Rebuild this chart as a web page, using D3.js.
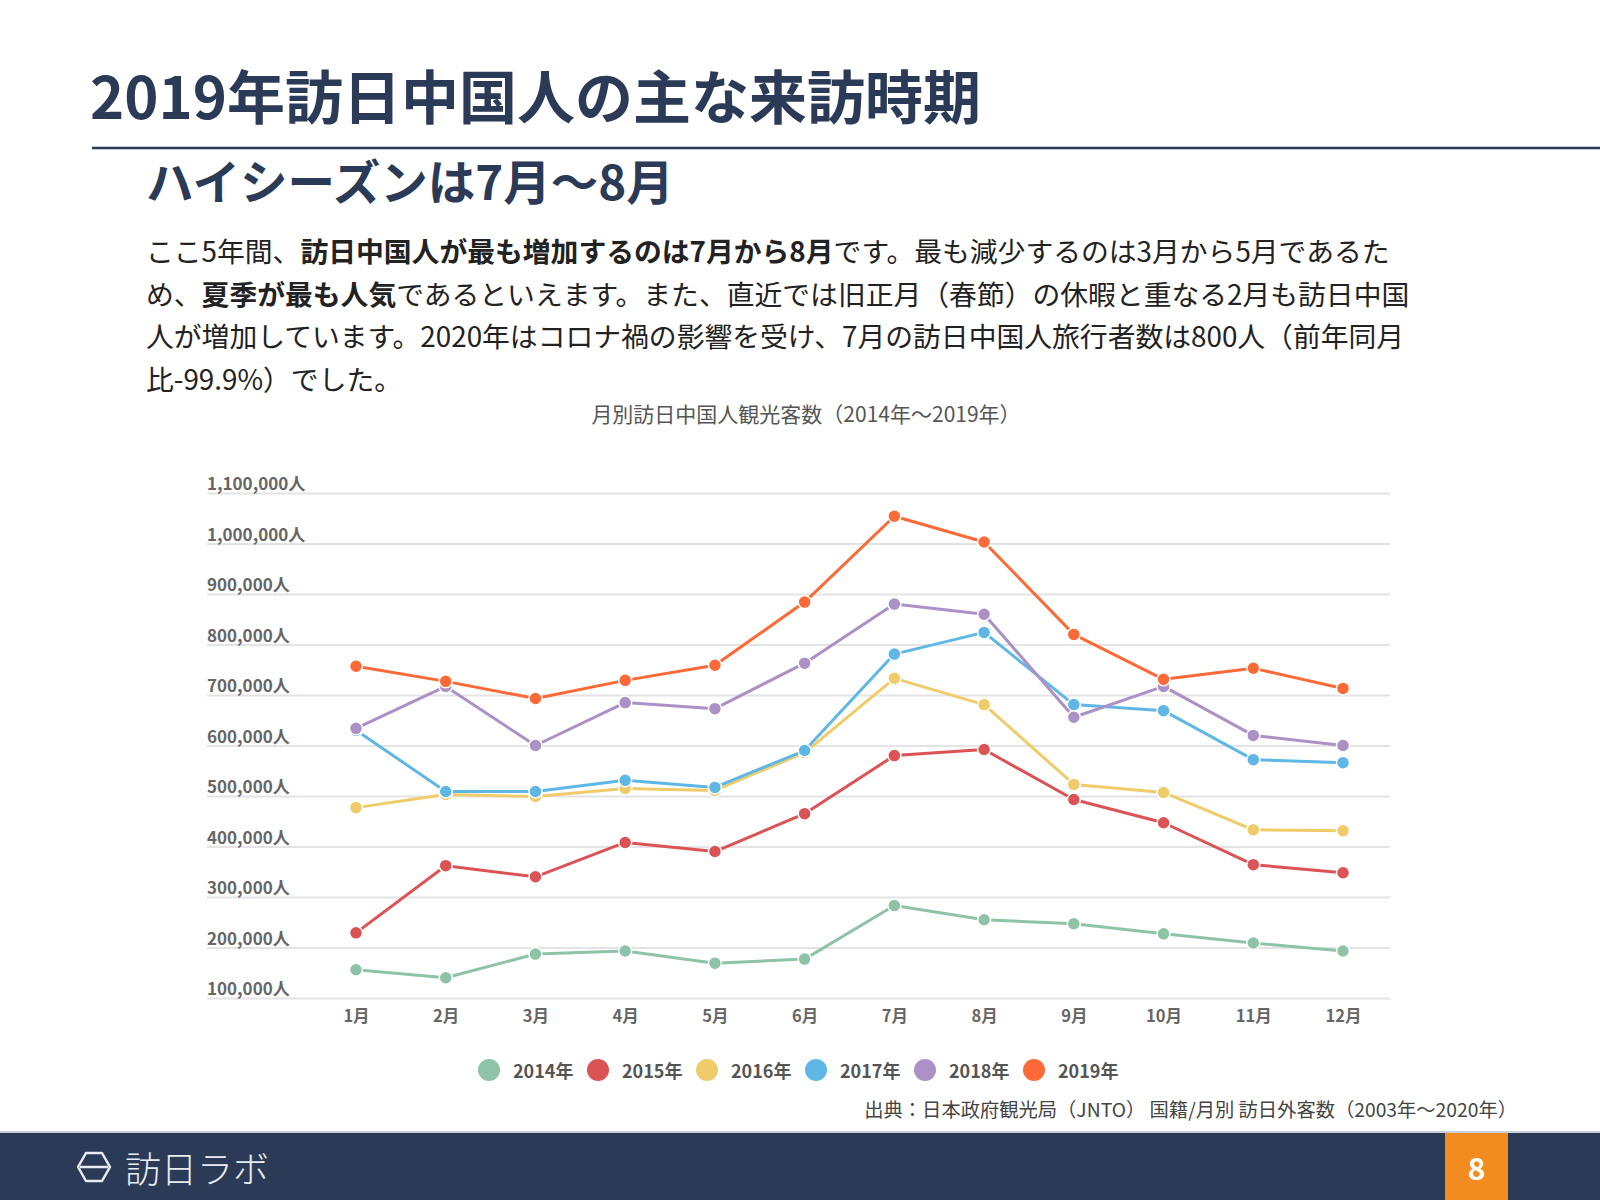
<!DOCTYPE html>
<html><head><meta charset="utf-8">
<script src="https://cdn.jsdelivr.net/npm/d3@7"></script>
<style>
html,body{margin:0;padding:0;background:#fff;}
svg{display:block;}
text{font-family:"Noto Sans CJK JP","Noto Sans",sans-serif;}
</style></head>
<body>
<svg id="c" width="1600" height="1200"></svg>
<script>
const months = ["1月","2月","3月","4月","5月","6月","7月","8月","9月","10月","11月","12月"];
const seriesNames = ["2014年","2015年","2016年","2017年","2018年","2019年"];
const seriesColors = ["#8ec3a7","#dc5356","#f0cb69","#5fb7e5","#ab91c5","#fd6a37"];
const v2014 = [156000,140000,187000,193000,169000,177000,283000,255000,247000,227000,209000,193000];
const v2015 = [229000,362000,340000,408000,390000,465000,580000,592000,493000,447000,364000,348000];
const v2016 = [477000,503000,499000,515000,511000,586000,733000,681000,523000,507000,433000,431000];
const v2017 = [630000,509000,509000,531000,517000,590000,781000,824000,681000,669000,572000,566000];
const v2018 = [634000,717000,600000,685000,673000,763000,880000,860000,656000,717000,620000,600000];
const v2019 = [757000,727000,693000,729000,759000,884000,1054000,1003000,820000,731000,753000,713000];
const yTicks = [100000,200000,300000,400000,500000,600000,700000,800000,900000,1000000,1100000];
const allSeries = [v2014,v2015,v2016,v2017,v2018,v2019];

const svg = d3.select("#c");
const navy = "#2b3a56";

// Title
svg.append("text").attr("x",90).attr("y",94).attr("dominant-baseline","central")
  .attr("font-size",58).attr("font-weight",700).attr("fill",navy)
  .text("2019年訪日中国人の主な来訪時期");
svg.append("line").attr("x1",92).attr("x2",1600).attr("y1",148).attr("y2",148)
  .attr("stroke",navy).attr("stroke-width",2.5);
svg.append("text").attr("x",146).attr("y",179).attr("dominant-baseline","central")
  .attr("font-size",47.5).attr("font-weight",700).attr("fill",navy)
  .text("ハイシーズンは7月〜8月");

// Paragraph
const para = [
  [["ここ5年間、",0],["訪日中国人が最も増加するのは7月から8月",1],["です。最も減少するのは3月から5月であるた",0]],
  [["め、",0],["夏季が最も人気",1],["であるといえます。また、直近では旧正月（春節）の休暇と重なる2月も訪日中国",0]],
  [["人が増加しています。2020年はコロナ禍の影響を受け、7月の訪日中国人旅行者数は800人（前年同月",0]],
  [["比-99.9%）でした。",0]]
];
const paraY = [250,293,335,378];
para.forEach((line,i)=>{
  const t = svg.append("text").attr("x",146).attr("y",paraY[i]).attr("dominant-baseline","central")
    .attr("font-size",27.8).attr("fill","#222");
  line.forEach(([s,b])=>{
    t.append("tspan").attr("font-weight",b?700:400).text(s);
  });
});

// Chart title
svg.append("text").attr("x",806).attr("y",413).attr("text-anchor","middle").attr("dominant-baseline","central")
  .attr("font-size",21).attr("fill","#555").text("月別訪日中国人観光客数（2014年〜2019年）");

// Scales
const x = d3.scalePoint().domain(months).range([356,1343]).padding(0);
const y = d3.scaleLinear().domain([100000,1100000]).range([998,493]);

// Grid + y labels
const yAxis = d3.axisLeft(y).tickValues(yTicks).tickSize(-(1390-207)).tickFormat(d=>d3.format(",")(d)+"人");
const gy = svg.append("g").attr("transform","translate(207,0)").call(yAxis);
gy.select(".domain").remove();
gy.selectAll(".tick line").attr("stroke","#e4e4e4").attr("stroke-width",2);
gy.selectAll(".tick text").attr("x",0).attr("dy",0).attr("y",-11).attr("text-anchor","start")
  .attr("dominant-baseline","central").attr("font-size",17).attr("font-weight",600).attr("fill","#666")
  .style("font-family",'"Noto Sans CJK JP",sans-serif');

// x labels
const xAxis = d3.axisBottom(x).tickSize(0);
const gx = svg.append("g").attr("transform","translate(0,998)").call(xAxis);
gx.select(".domain").remove();
gx.selectAll(".tick text").attr("y",17).attr("dy",0).attr("dominant-baseline","central")
  .attr("font-size",16.5).attr("font-weight",600).attr("fill","#666")
  .style("font-family",'"Noto Sans CJK JP",sans-serif');

// Lines + dots
const line = d3.line().x((d,i)=>x(months[i])).y(d=>y(d));
allSeries.forEach((vals,si)=>{
  const g = svg.append("g");
  g.append("path").datum(vals).attr("d",line).attr("fill","none")
    .attr("stroke",seriesColors[si]).attr("stroke-width",3).attr("stroke-linejoin","round");
  g.selectAll("circle").data(vals).join("circle")
    .attr("cx",(d,i)=>x(months[i])).attr("cy",d=>y(d)).attr("r",6.5)
    .attr("fill",seriesColors[si]).attr("stroke","#fff").attr("stroke-width",1.5);
});

// Legend
const legX = d3.scalePoint().domain(seriesNames).range([489,1034]);
const lg = svg.append("g");
seriesNames.forEach((n,i)=>{
  lg.append("circle").attr("cx",legX(n)).attr("cy",1070).attr("r",11).attr("fill",seriesColors[i]);
  lg.append("text").attr("x",legX(n)+24).attr("y",1070).attr("dominant-baseline","central")
    .attr("font-size",18).attr("font-weight",600).attr("fill","#555").text(n);
});

// Source
svg.append("text").attr("x",1517).attr("y",1109).attr("text-anchor","end").attr("dominant-baseline","central")
  .attr("font-size",19.3).attr("fill","#444")
  .text("出典：日本政府観光局（JNTO） 国籍/月別 訪日外客数（2003年〜2020年）");

// Footer
svg.append("rect").attr("x",0).attr("y",1131).attr("width",1600).attr("height",2).attr("fill","#c9d1dc");
svg.append("rect").attr("x",0).attr("y",1133).attr("width",1600).attr("height",67).attr("fill","#2b3a56");
svg.append("rect").attr("x",1445).attr("y",1133).attr("width",63).attr("height",67).attr("fill","#f28c1e");
svg.append("text").attr("x",1476.5).attr("y",1167).attr("text-anchor","middle").attr("dominant-baseline","central")
  .attr("font-size",30).attr("font-weight",700).attr("fill","#fff").text("8");
// logo icon
svg.append("path").attr("d","M78,1167 L86,1153 L102,1153 L110,1167 L102,1181 L86,1181 Z M80,1167 L108,1167")
  .attr("fill","none").attr("stroke","#e8ecf2").attr("stroke-width",2.5).attr("stroke-linejoin","round");
svg.append("text").attr("x",125).attr("y",1167).attr("dominant-baseline","central")
  .attr("font-size",36).attr("font-weight",300).attr("fill","#e8ecf2")
  .text("訪日ラボ");
</script>
</body></html>
